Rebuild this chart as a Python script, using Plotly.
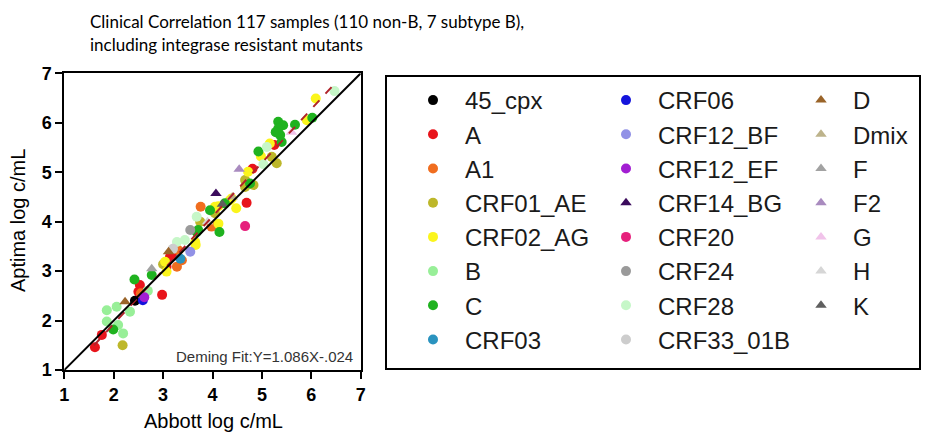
import numpy as np
import plotly.graph_objects as go

W, H = 926, 432

# ---------------- data ----------------
groups = ["45_cpx", "A", "A1", "CRF01_AE", "CRF02_AG", "B", "C", "CRF03",
          "CRF06", "CRF12_BF", "CRF12_EF", "CRF14_BG", "CRF20", "CRF24", "CRF28", "CRF33_01B",
          "D", "Dmix", "F", "F2", "G", "H", "K"]

colors = ["#000000", "#e8141b", "#f06d1f", "#bdb72a", "#fbf51c", "#98ef98", "#1fb21f", "#2a93bf",
          "#1414dc", "#9191e6", "#a21ed2", "#3b0b5c", "#e6207c", "#9a9a9a", "#c6f7c8", "#cdcdcd",
          "#9a6429", "#bdb38b", "#a2a2a2", "#a98bbf", "#f1c3ea", "#d6d6d6", "#5f5f5f"]

symbols = ["circle"] * 11 + ["triangle-up"] + ["circle"] * 4 + ["triangle-up"] * 7

x_45_cpx = [2.43]
y_45_cpx = [2.40]
x_A = [1.62, 1.76, 2.50, 2.53, 2.98, 3.14, 3.24, 3.07, 4.69, 4.81, 5.25]
y_A = [1.46, 1.71, 2.58, 2.72, 2.52, 3.29, 3.32, 3.09, 4.38, 5.07, 5.55]
x_A1 = [3.28, 3.38, 3.31, 3.76, 3.98, 2.55]
y_A1 = [3.09, 3.22, 3.42, 4.30, 3.90, 2.55]
x_CRF01_AE = [2.18, 3.00, 3.75, 4.05, 4.66, 4.66, 4.83, 5.20, 5.30]
y_CRF01_AE = [1.50, 3.14, 4.00, 4.17, 4.84, 4.70, 4.74, 5.31, 5.18]
x_CRF02_AG = [3.07, 3.65, 3.66, 3.04, 4.05, 4.12, 4.35, 4.48, 4.12, 4.39, 4.72, 4.98, 5.16, 5.91, 6.09]
y_CRF02_AG = [2.99, 3.59, 3.53, 3.19, 4.30, 4.31, 4.43, 4.27, 3.96, 4.47, 5.01, 5.32, 5.58, 6.05, 6.49]
x_B = [1.86, 2.06, 2.33, 1.86, 2.09, 2.19, 2.69]
y_B = [2.21, 2.28, 2.18, 1.98, 1.91, 1.74, 2.60]
x_C = [1.99, 2.42, 2.77, 3.71, 3.95, 4.14, 4.25, 5.33, 5.43, 5.33, 5.67, 5.37, 5.40, 5.28, 4.93, 6.02, 3.68, 4.76]
y_C = [1.82, 2.83, 2.92, 3.83, 4.23, 3.79, 4.37, 6.02, 5.95, 5.88, 5.96, 5.75, 5.61, 5.81, 5.42, 6.10, 3.79, 4.77]
x_CRF03 = [3.35]
y_CRF03 = [3.25]
x_CRF06 = [2.59]
y_CRF06 = [2.41]
x_CRF12_BF = [3.55]
y_CRF12_BF = [3.39]
x_CRF12_EF = [2.62]
y_CRF12_EF = [2.47]
x_CRF14_BG = [4.07]
y_CRF14_BG = [4.57]
x_CRF20 = [4.66]
y_CRF20 = [3.91]
x_CRF24 = [3.55]
y_CRF24 = [3.83]
x_CRF28 = [3.28, 3.44, 3.68, 5.10, 5.03, 6.47]
y_CRF28 = [3.59, 3.63, 4.10, 5.51, 5.16, 6.64]
x_CRF33_01B = [3.20]
y_CRF33_01B = [3.45]
x_D = [2.23, 3.11]
y_D = [2.38, 3.39]
x_Dmix = [4.40]
y_Dmix = [4.50]
x_F = [2.77]
y_F = [3.05]
x_F2 = [4.54]
y_F2 = [5.06]
x_G = [5.60]
y_G = [5.81]
x_H = [3.90]
y_H = [4.00]
x_K = [4.20]
y_K = [4.35]

xs = [x_45_cpx, x_A, x_A1, x_CRF01_AE, x_CRF02_AG, x_B, x_C, x_CRF03, x_CRF06, x_CRF12_BF,
      x_CRF12_EF, x_CRF14_BG, x_CRF20, x_CRF24, x_CRF28, x_CRF33_01B, x_D, x_Dmix, x_F, x_F2,
      x_G, x_H, x_K]
ys = [y_45_cpx, y_A, y_A1, y_CRF01_AE, y_CRF02_AG, y_B, y_C, y_CRF03, y_CRF06, y_CRF12_BF,
      y_CRF12_EF, y_CRF14_BG, y_CRF20, y_CRF24, y_CRF28, y_CRF33_01B, y_D, y_Dmix, y_F, y_F2,
      y_G, y_H, y_K]

legend_of = ["legend"] * 8 + ["legend2"] * 8 + ["legend3"] * 7

identity_x = [1, 7]
fit_slope = 1.086
fit_intercept = -0.24
fit_x = [1.6, 6.45]

axis_ticks = [1, 2, 3, 4, 5, 6, 7]

# ---------------- figure ----------------
FONT = "Liberation Sans, Arial, sans-serif"


def px(x):
    return x / W


def py(y):
    return 1 - y / H


fig = go.Figure()

for name, xv, yv, c, s, lg in zip(groups, xs, ys, colors, symbols, legend_of):
    fig.add_trace(go.Scatter(
        x=xv, y=yv, mode="markers", name=name, legend=lg,
        marker=dict(color=c, symbol=s, size=10, line=dict(width=0)),
        cliponaxis=False,
    ))

fx = np.array(fit_x)
fig.add_trace(go.Scatter(x=fx, y=fit_slope * fx + fit_intercept, mode="lines",
                         line=dict(color="#b0232a", width=2, dash="dash"), showlegend=False))
fig.add_trace(go.Scatter(x=identity_x, y=identity_x, mode="lines",
                         line=dict(color="black", width=2), showlegend=False))

axis_common = dict(range=[1, 7], tickvals=axis_ticks, ticktext=[f"<b>{t}</b>" for t in axis_ticks],
                   showgrid=False, zeroline=False, showline=True, linecolor="black", linewidth=2,
                   mirror=True, ticks="outside", ticklen=7, tickwidth=2, tickcolor="black",
                   tickfont=dict(family=FONT, size=18, color="black", weight="bold"))

legend_common = dict(orientation="v", xanchor="left", yanchor="top", bgcolor="rgba(0,0,0,0)",
                     borderwidth=0, itemwidth=54, tracegroupgap=0,
                     font=dict(family=FONT, size=24, color="#1a1a1a"))

fig.update_layout(
    width=W, height=H, margin=dict(l=0, r=0, t=0, b=0, autoexpand=False),
    paper_bgcolor="white", plot_bgcolor="white",
    xaxis=dict(domain=[px(64.3), px(360.7)], **axis_common),
    yaxis=dict(domain=[py(370), py(73.3)], **axis_common),
    legend=dict(x=px(401), y=py(78), **legend_common),
    legend2=dict(x=px(594), y=py(78), **legend_common),
    legend3=dict(x=px(789), y=py(78), **legend_common),
    shapes=[dict(type="rect", xref="paper", yref="paper", x0=px(386), x1=px(920),
                 y0=py(369), y1=py(76), line=dict(color="black", width=2), layer="below")],
    annotations=[
        dict(text="Clinical Correlation 117 samples (110 non-B, 7 subtype B),", xref="paper", yref="paper",
             x=px(88), y=py(21), xanchor="left", yanchor="middle", showarrow=False,
             font=dict(family="Lato", size=17, color="black")),
        dict(text="including integrase resistant mutants", xref="paper", yref="paper",
             x=px(88), y=py(44), xanchor="left", yanchor="middle", showarrow=False,
             font=dict(family="Lato", size=17, color="black")),
        dict(text="Abbott log c/mL", xref="paper", yref="paper", x=px(213), y=py(421),
             xanchor="center", yanchor="middle", showarrow=False,
             font=dict(family=FONT, size=20, color="black")),
        dict(text="Aptima log c/mL", xref="paper", yref="paper", x=px(18), y=py(221),
             xanchor="center", yanchor="middle", showarrow=False, textangle=-90,
             font=dict(family=FONT, size=20, color="black")),
        dict(text="Deming Fit:Y=1.086X-.024", xref="paper", yref="paper", x=px(355), y=py(356),
             xanchor="right", yanchor="middle", showarrow=False,
             font=dict(family=FONT, size=15, color="#333333")),
    ],
)

fig.write_html("out.html")
